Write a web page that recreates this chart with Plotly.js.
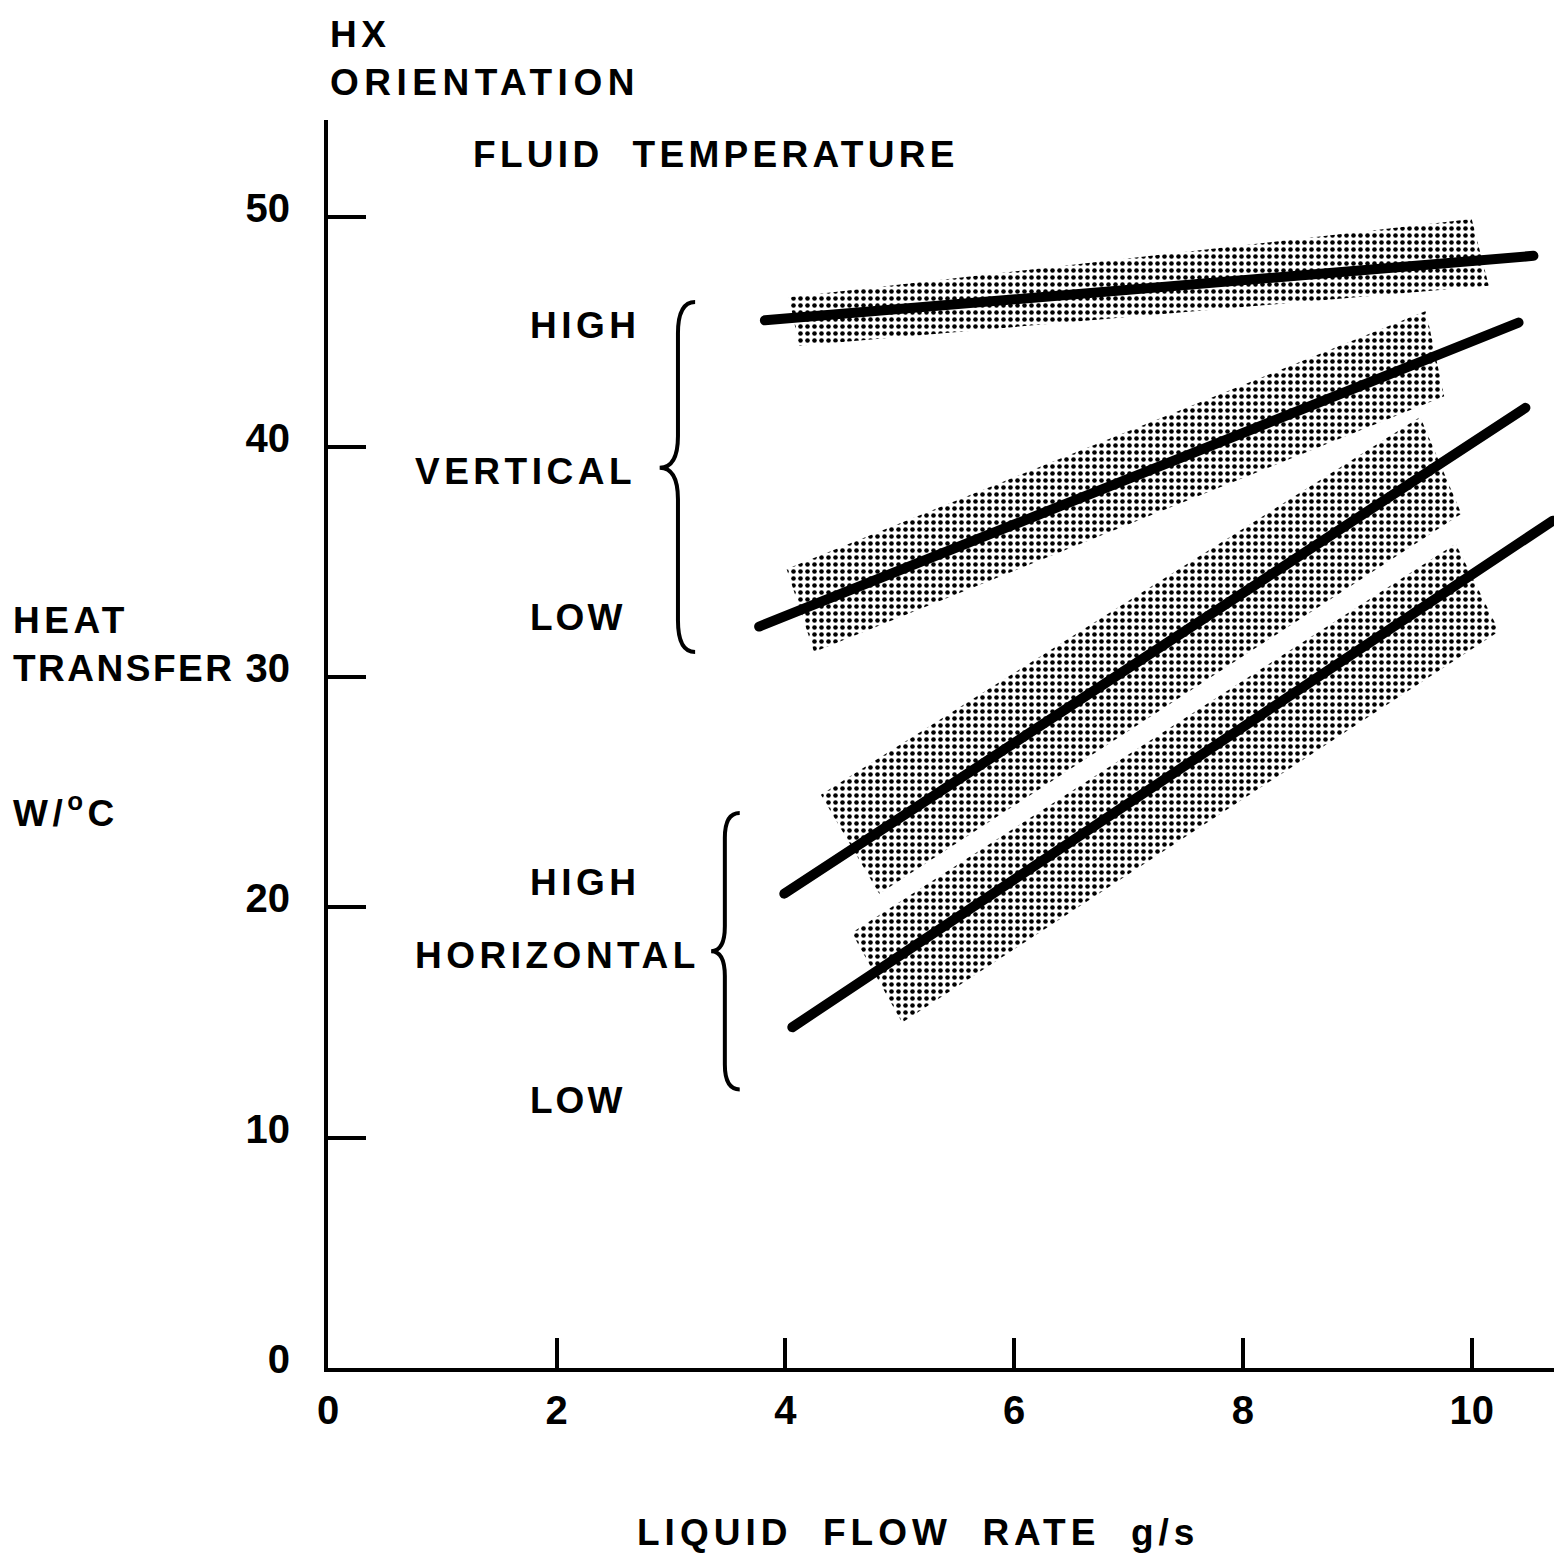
<!DOCTYPE html>
<html>
<head>
<meta charset="utf-8">
<script src="https://cdn.plot.ly/plotly-3.0.1.min.js"></script>
<style>
  html, body { margin: 0; padding: 0; background: #fff; }
  #chart { width: 1554px; height: 1558px; }
  .annotation-text { letter-spacing: 4.5px; }
  .scatterlayer .js-line { stroke-linecap: round; }
</style>
</head>
<body>
<div id="chart"></div>
<script>
// ---- Data ----
// Liquid flow rate (g/s) vs heat transfer (W/°C)
const seriesNames = ['VERTICAL, HIGH', 'VERTICAL, LOW', 'HORIZONTAL, HIGH', 'HORIZONTAL, LOW'];

// Trend lines (end points)
const vertHighX = [3.82, 10.54];
const vertHighY = [45.5, 48.3];
const vertLowX  = [3.77, 10.41];
const vertLowY  = [32.2, 45.4];
const horHighX  = [3.99, 10.47];
const horHighY  = [20.6, 41.7];
const horLowX   = [4.06, 10.71];
const horLowY   = [14.8, 36.8];

// Shaded scatter bands (corner points: upper-left, upper-right, lower-right, lower-left)
const vertHighBandX = [4.03, 10.00, 10.15, 4.12];
const vertHighBandY = [46.5, 49.9, 47.0, 44.4];
const vertLowBandX  = [4.01, 9.60, 9.76, 4.25];
const vertLowBandY  = [34.7, 45.9, 42.2, 31.1];
const horHighBandX  = [4.31, 9.55, 9.91, 4.82];
const horHighBandY  = [24.9, 41.3, 37.1, 20.6];
const horLowBandX   = [4.58, 9.86, 10.24, 5.02];
const horLowBandY   = [18.9, 35.8, 32.0, 15.0];

// Axis ticks
const xTickVals = [0, 2, 4, 6, 8, 10];
const xTickText = ['0', '2', '4', '6', '8', '10'];
const yTickVals = [0, 10, 20, 30, 40, 50];
const yTickText = ['0', '10', '20', '30', '40', '50'];

// ---- Layout constants ----
const W = 1554, H = 1558;
const M = { l: 328, r: 0, t: 120, b: 190 };
const X_RANGE = [0, 10.72];
const Y_RANGE = [0, 54.2];
const TXT_FONT = { family: 'Liberation Sans', size: 37, color: '#000', weight: 'bold' };
const SP = '&nbsp;&nbsp;';

function px2paperX(px) { return (px - M.l) / (W - M.l - M.r); }
function px2paperY(py) { return (H - M.b - py) / (H - M.t - M.b); }

const bands = [
  [vertHighBandX, vertHighBandY],
  [vertLowBandX, vertLowBandY],
  [horHighBandX, horHighBandY],
  [horLowBandX, horLowBandY]
];
const lines = [
  [vertHighX, vertHighY],
  [vertLowX, vertLowY],
  [horHighX, horHighY],
  [horLowX, horLowY]
];

const traces = [];
bands.forEach(function (b, i) {
  traces.push({
    type: 'scatter', mode: 'lines',
    x: b[0].concat([b[0][0]]), y: b[1].concat([b[1][0]]),
    fill: 'toself',
    fillcolor: '#ffffff',
    fillpattern: { shape: '.', size: 7, solidity: 0.34, fgcolor: '#000000', bgcolor: '#ffffff' },
    line: { width: 0, color: 'rgba(0,0,0,0)' },
    name: seriesNames[i] + ' range',
    showlegend: false, hoverinfo: 'skip'
  });
});
lines.forEach(function (l, i) {
  traces.push({
    type: 'scatter', mode: 'lines',
    x: l[0], y: l[1],
    line: { width: 10, color: '#000' },
    name: seriesNames[i],
    showlegend: false
  });
});

// Curly braces grouping the HIGH / LOW labels
function bracePath(xTip, xBody, xPoint, yTop, yMid, yBot) {
  const h = (yTop - yBot) * 0.09;
  return 'M' + xTip + ',' + yTop +
    ' Q' + xBody + ',' + yTop + ' ' + xBody + ',' + (yTop - h) +
    ' L' + xBody + ',' + (yMid + h) +
    ' Q' + xBody + ',' + yMid + ' ' + xPoint + ',' + yMid +
    ' Q' + xBody + ',' + yMid + ' ' + xBody + ',' + (yMid - h) +
    ' L' + xBody + ',' + (yBot + h) +
    ' Q' + xBody + ',' + yBot + ' ' + xTip + ',' + yBot;
}
const shapes = [
  { type: 'path', xref: 'x', yref: 'y', path: bracePath(3.21, 3.06, 2.90, 46.3, 39.1, 31.1), line: { color: '#000', width: 4 } },
  { type: 'path', xref: 'x', yref: 'y', path: bracePath(3.60, 3.47, 3.35, 24.1, 18.1, 12.1), line: { color: '#000', width: 4 } }
];

function txt(text, pxLeft, pyCenter) {
  return {
    text: text, xref: 'paper', yref: 'paper',
    x: px2paperX(pxLeft), y: px2paperY(pyCenter),
    xanchor: 'left', yanchor: 'middle', align: 'left',
    showarrow: false, font: TXT_FONT
  };
}
const annotations = [
  txt('HX', 328, 35),
  txt('<span style="letter-spacing:5.5px">ORIENTATION</span>', 328, 82),
  txt('<span style="letter-spacing:4.3px">FLUID' + SP + 'TEMPERATURE</span>', 471, 154),
  txt('HIGH', 528, 325),
  txt('VERTICAL', 413, 471),
  txt('<span style="letter-spacing:3px">LOW</span>', 528, 617),
  txt('HIGH', 528, 882),
  txt('HORIZONTAL', 413, 955),
  txt('<span style="letter-spacing:3px">LOW</span>', 528, 1100),
  txt('HEAT', 11, 620),
  txt('<span style="letter-spacing:2.5px">TRANSFER</span>', 11, 668),
  txt('W/<sup>o</sup>C', 11, 810),
  txt('<span style="letter-spacing:5px">LIQUID' + SP + 'FLOW' + SP + 'RATE' + SP + 'g/s</span>', 635, 1532)
];

const tickFont = { family: 'Liberation Sans', size: 40, color: '#000', weight: 'bold' };

const layout = {
  width: W, height: H,
  margin: M,
  paper_bgcolor: '#fff', plot_bgcolor: '#fff',
  showlegend: false,
  hovermode: false,
  xaxis: {
    range: X_RANGE, showgrid: false, zeroline: false,
    showline: true, linecolor: '#000', linewidth: 4,
    ticks: 'inside', ticklen: 30, tickwidth: 4, tickcolor: '#000',
    tickmode: 'array', tickvals: xTickVals, ticktext: xTickText,
    tickfont: tickFont, ticklabelstandoff: 4,
    fixedrange: true
  },
  yaxis: {
    range: Y_RANGE, showgrid: false, zeroline: false,
    showline: true, linecolor: '#000', linewidth: 4,
    ticks: 'inside', ticklen: 38, tickwidth: 4, tickcolor: '#000',
    tickmode: 'array', tickvals: yTickVals, ticktext: yTickText,
    tickfont: tickFont, ticklabelstandoff: 26, ticklabelshift: -9,
    fixedrange: true
  },
  shapes: shapes,
  annotations: annotations
};

Plotly.newPlot('chart', traces, layout, { displayModeBar: false, staticPlot: true });
</script>
</body>
</html>
